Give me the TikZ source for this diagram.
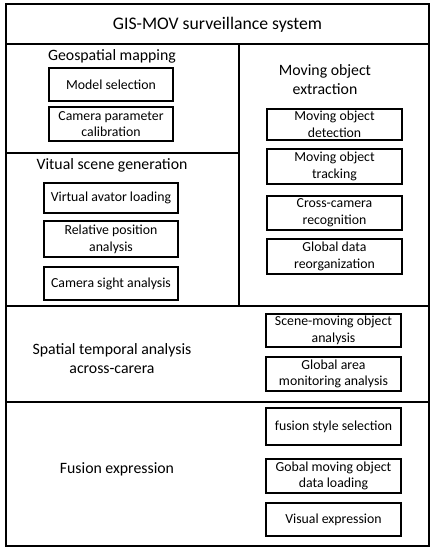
\documentclass[tikz,border=0pt]{standalone}
\usepackage{fontspec}
\setmainfont{Carlito}
\usepackage{tikz}
\usetikzlibrary{positioning}

\begin{document}
\begin{tikzpicture}[
    x=1pt, y=-1pt,
    frame/.style={draw=black, line width=1.6pt},
    taskbox/.style={draw=black, line width=1.3pt, font=\fontsize{13.8}{16.7}\selectfont, align=center, inner sep=1pt},
    headnode/.style={font=\fontsize{15.8}{19}\selectfont, align=center, inner sep=1pt},
    titlenode/.style={font=\fontsize{17.7}{21}\selectfont, inner sep=1pt}
]
    \useasboundingbox (0,0) rectangle (434,550);

    % Cornice e divisori (disegnati per primi)
    \draw[frame] (6,4) rectangle (429,546);
    \draw[frame] (6,44) -- (429,44);
    \draw[frame] (239,44) -- (239,306);
    \draw[frame] (6,153) -- (239,153);
    \draw[frame] (6,306) -- (429,306);
    \draw[frame] (6,402) -- (429,402);

    % Titolo
    \node[titlenode] (title) at (217.5,25) {GIS-MOV surveillance system};

    % Geospatial mapping
    \node[headnode] (geo) at (112,56) {Geospatial mapping};
    \node[taskbox, minimum width=124, minimum height=33] (model) at (111,84.5) {Model selection};
    \node[taskbox, minimum width=124, minimum height=34] (calib) at (111,124) {Camera parameter\\calibration};

    % Virtual scene generation
    \node[headnode] (scene) at (112,165) {Vitual scene generation};
    \node[taskbox, minimum width=134, minimum height=30] (avator) at (111,198) {Virtual avator loading};
    \node[taskbox, minimum width=134, minimum height=36] (relpos) at (111,239) {Relative position\\analysis};
    \node[taskbox, minimum width=134, minimum height=33] (sight) at (111,283.5) {Camera sight analysis};

    % Moving object extraction
    \node[headnode] (extract) at (325,80) {Moving object\\extraction};
    \node[taskbox, minimum width=135, minimum height=31] (detect) at (334.5,124.5) {Moving object\\detection};
    \node[taskbox, minimum width=135, minimum height=35] (track) at (334.5,166.5) {Moving object\\tracking};
    \node[taskbox, minimum width=135, minimum height=34] (cross) at (334.5,213) {Cross-camera\\recognition};
    \node[taskbox, minimum width=135, minimum height=35] (reorg) at (334.5,256.5) {Global data\\reorganization};

    % Spatial temporal analysis
    \node[headnode] (spatial) at (112,359) {Spatial temporal analysis\\across-carera};
    \node[taskbox, minimum width=135, minimum height=33] (scenemov) at (333.5,330.5) {Scene-moving object\\analysis};
    \node[taskbox, minimum width=135, minimum height=34] (area) at (333.5,374) {Global area\\monitoring analysis};

    % Fusion expression
    \node[headnode] (fusion) at (117,469) {Fusion expression};
    \node[taskbox, minimum width=135, minimum height=37] (style) at (333.5,426.5) {fusion style selection};
    \node[taskbox, minimum width=135, minimum height=34] (loading) at (333.5,476) {Gobal moving object\\data loading};
    \node[taskbox, minimum width=135, minimum height=33] (visual) at (333.5,519.5) {Visual expression};

\end{tikzpicture}
\end{document}
